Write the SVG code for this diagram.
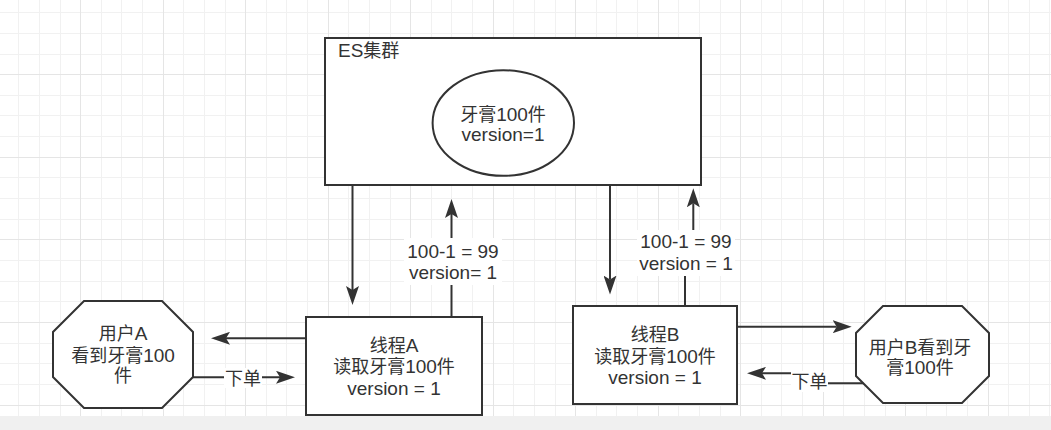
<svg xmlns="http://www.w3.org/2000/svg" width="1051" height="430" viewBox="0 0 1051 430">
<style>
.g{stroke:#f1f1f1;stroke-width:1}
.G{stroke:#e5e5e5;stroke-width:1}
.shape{fill:#fff;stroke:#333;stroke-width:2}
.t{font-family:"Liberation Sans","Noto Sans CJK SC",sans-serif;font-size:18px;fill:#333;text-anchor:middle}
.n{font-size:19px}
.c{fill:none;stroke:#333;stroke-width:2;marker-end:url(#arr)}
.lbg{fill:#fff}
</style>
<defs>
<marker id="arr" markerUnits="userSpaceOnUse" viewBox="0 0 19 13" markerWidth="19" markerHeight="13" refX="4" refY="6.5" orient="auto">
<path d="M0,0 L19,6.5 L0,13 L4,6.5 Z" fill="#333"/>
</marker>
</defs>
<rect x="0" y="0" width="1051" height="430" fill="#fff"/>
<g id="grid">
<path class="g" d="M18.5 0V430M39.5 0V430M60.5 0V430M101.5 0V430M121.5 0V430M142.5 0V430M183.5 0V430M204.5 0V430M225.5 0V430M266.5 0V430M286.5 0V430M307.5 0V430M348.5 0V430M369.5 0V430M390.5 0V430M431.5 0V430M451.5 0V430M472.5 0V430M513.5 0V430M534.5 0V430M555.5 0V430M596.5 0V430M616.5 0V430M637.5 0V430M678.5 0V430M699.5 0V430M720.5 0V430M761.5 0V430M781.5 0V430M802.5 0V430M843.5 0V430M864.5 0V430M885.5 0V430M926.5 0V430M946.5 0V430M967.5 0V430M1008.5 0V430M1029.5 0V430M1049.5 0V430"/>
<path class="g" d="M0 12.5H1051M0 33.5H1051M0 54.5H1051M0 95.5H1051M0 115.5H1051M0 136.5H1051M0 177.5H1051M0 198.5H1051M0 219.5H1051M0 260.5H1051M0 281.5H1051M0 301.5H1051M0 343.5H1051M0 363.5H1051M0 384.5H1051"/>
<path class="G" d="M80.5 0V430M163.5 0V430M245.5 0V430M328.5 0V430M410.5 0V430M493.5 0V430M575.5 0V430M658.5 0V430M740.5 0V430M823.5 0V430M905.5 0V430M988.5 0V430M0 74.5H1051M0 157.5H1051M0 239.5H1051M0 322.5H1051M0 405.5H1051"/>
</g>
<g id="es-cluster">
<rect class="shape" x="325" y="38" width="376" height="147"/>
<text class="t" x="338" y="56.5" style="text-anchor:start"><tspan class="n">ES</tspan>集群</text>
</g>
<g id="stock">
<ellipse class="shape" cx="503.3" cy="123" rx="70.7" ry="52.8"/>
<text class="t" x="503" y="120.5">牙膏<tspan class="n">100</tspan>件</text>
<text class="t n" x="503" y="141">version=1</text>
</g>
<g id="thread-a">
<rect class="shape" x="306" y="317" width="176" height="98"/>
<text class="t" x="394" y="351.5">线程<tspan class="n">A</tspan></text>
<text class="t" x="394" y="373">读取牙膏<tspan class="n">100</tspan>件</text>
<text class="t n" x="394" y="394.5">version = 1</text>
</g>
<g id="thread-b">
<rect class="shape" x="573" y="306" width="164" height="98"/>
<text class="t" x="655" y="341">线程<tspan class="n">B</tspan></text>
<text class="t" x="655" y="362.5">读取牙膏<tspan class="n">100</tspan>件</text>
<text class="t n" x="655" y="383.5">version = 1</text>
</g>
<g id="user-a">
<polygon class="shape" points="84,301 162,301 193,332 193,377 162,408 84,408 53,377 53,332"/>
<text class="t" x="123" y="340">用户<tspan class="n">A</tspan></text>
<text class="t" x="123" y="361.5">看到牙膏<tspan class="n">100</tspan></text>
<text class="t" x="123" y="381.5">件</text>
</g>
<g id="user-b">
<polygon class="shape" points="883,306 962,306 989,333 989,376 962,403 883,403 856,376 856,333"/>
<text class="t" x="920" y="354">用户<tspan class="n">B</tspan>看到牙</text>
<text class="t" x="920" y="374">膏<tspan class="n">100</tspan>件</text>
</g>
<g id="connectors">
<path class="c" d="M352.5 185V290"/>
<path class="c" d="M451.5 317V214"/>
<rect class="lbg" x="404" y="238" width="98" height="47"/>
<text class="t n" x="453" y="257.5">100-1 = 99</text>
<text class="t n" x="453" y="279">version= 1</text>
<path class="c" d="M610 185V279.5"/>
<path class="c" d="M685 306V252H693.3V203.3"/>
<rect class="lbg" x="637" y="230" width="98" height="46"/>
<text class="t n" x="686" y="247.5">100-1 = 99</text>
<text class="t n" x="686" y="269.5">version = 1</text>
<path class="c" d="M306 338.3H226"/>
<path class="c" d="M193 377.3H280"/>
<rect class="lbg" x="224" y="368" width="38" height="20"/>
<text class="t" x="243" y="384.5">下单</text>
<path class="c" d="M737 326.7H836.7"/>
<path class="c" d="M863.3 383.3H810V373.3H762"/>
<rect class="lbg" x="791" y="371" width="37" height="21"/>
<text class="t" x="809.5" y="387.5">下单</text>
</g>
<rect x="0" y="416" width="1051" height="14" fill="#f0f0f0"/>
</svg>
